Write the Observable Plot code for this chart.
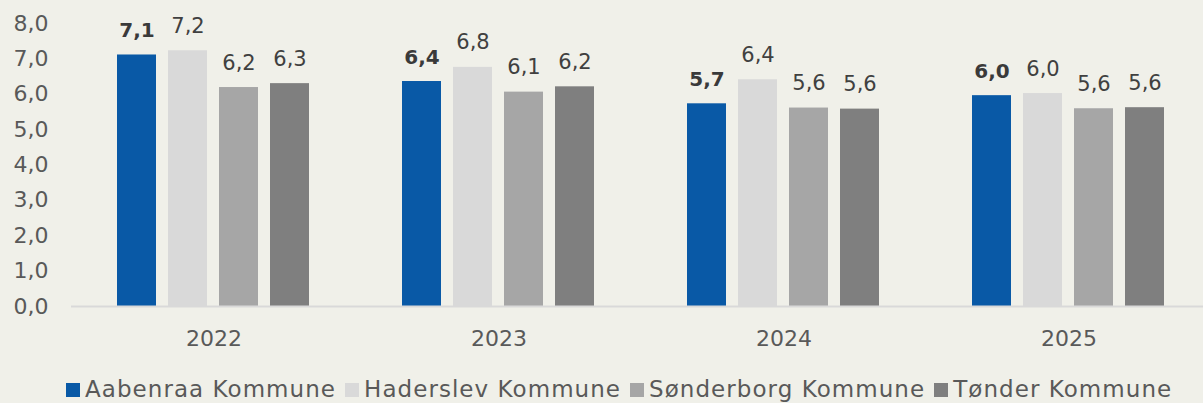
<!DOCTYPE html>
<html>
<head>
<meta charset="utf-8">
<script src="https://cdn.jsdelivr.net/npm/d3@7"></script>
<script src="https://cdn.jsdelivr.net/npm/@observablehq/plot@0.6"></script>
<style>
  html, body { margin: 0; padding: 0; background: #f0f0e9; }
  body { width: 1203px; height: 403px; position: relative; overflow: hidden; font-family: "DejaVu Sans", sans-serif; }
  #chart svg { display: block; background: #f0f0e9; }
  #legend { position: absolute; left: 66px; top: 375px; line-height: 28px; font-size: 23px; letter-spacing: 1.05px; color: #595959; white-space: nowrap; display: flex; }
  #legend .item { display: inline-block; margin-right: 9px; }
  #legend .sw { display: inline-block; width: 14px; height: 14px; margin-right: 5px; vertical-align: baseline; }
</style>
</head>
<body>
<div id="chart"></div>
<div id="legend"></div>
<script>
const years = ["2022", "2023", "2024", "2025"];
const series = ["Aabenraa Kommune", "Haderslev Kommune", "Sønderborg Kommune", "Tønder Kommune"];
const aabenraa   = [7.11, 6.36, 5.73, 5.96];
const haderslev  = [7.23, 6.76, 6.41, 6.02];
const sonderborg = [6.19, 6.06, 5.61, 5.59];
const tonder     = [6.30, 6.21, 5.58, 5.62];
const yTicks = [0, 1, 2, 3, 4, 5, 6, 7, 8];
const colors = ["#0959a6", "#d9d9d9", "#a6a6a6", "#7f7f7f"];

const valuesBySeries = [aabenraa, haderslev, sonderborg, tonder];
const data = [];
years.forEach((yr, i) => {
  series.forEach((s, j) => {
    data.push({year: yr, series: s, value: valuesBySeries[j][i]});
  });
});

const fmt = v => v.toFixed(1).replace(".", ",");

const plot = Plot.plot({
  width: 1203,
  height: 372,
  marginTop: 23,
  marginBottom: 66,
  marginLeft: 71,
  marginRight: 0,
  style: {background: "#f0f0e9", fontFamily: "DejaVu Sans, sans-serif", overflow: "hidden"},
  fx: {domain: years, range: [71, 1211], padding: 0, label: null, axis: null},
  x: {domain: series, paddingInner: 0.226, paddingOuter: 0.87, axis: null},
  y: {domain: [0, 8], axis: null},
  color: {domain: series, range: colors},
  marks: [
    Plot.axisY({ticks: yTicks, tickSize: 0, tickPadding: 23, tickFormat: fmt, fontSize: 22, color: "#595959", label: null, facetAnchor: "left"}),
    Plot.axisFx({anchor: "bottom", tickSize: 0, tickPadding: 24, fontSize: 22, color: "#595959", label: null}),
    Plot.barY(data, {fx: "year", x: "series", y: "value", fill: "series"}),
    Plot.ruleY([0], {stroke: "#d9d9d9", strokeWidth: 2}),
    Plot.text(data.filter(d => d.series === series[0]), {
      fx: "year", x: "series", y: "value", text: d => fmt(d.value),
      lineAnchor: "bottom", dy: -18, fontSize: 20, fontWeight: "bold", fill: "#3a3a3a"
    }),
    Plot.text(data.filter(d => d.series !== series[0]), {
      fx: "year", x: "series", y: "value", text: d => fmt(d.value),
      lineAnchor: "bottom", dy: -18, fontSize: 21, fill: "#404040"
    })
  ]
});
document.getElementById("chart").appendChild(plot);

const legend = document.getElementById("legend");
series.forEach((s, j) => {
  const item = document.createElement("span");
  item.className = "item";
  const sw = document.createElement("span");
  sw.className = "sw";
  sw.style.background = colors[j];
  item.appendChild(sw);
  item.appendChild(document.createTextNode(s));
  legend.appendChild(item);
});
</script>
</body>
</html>
